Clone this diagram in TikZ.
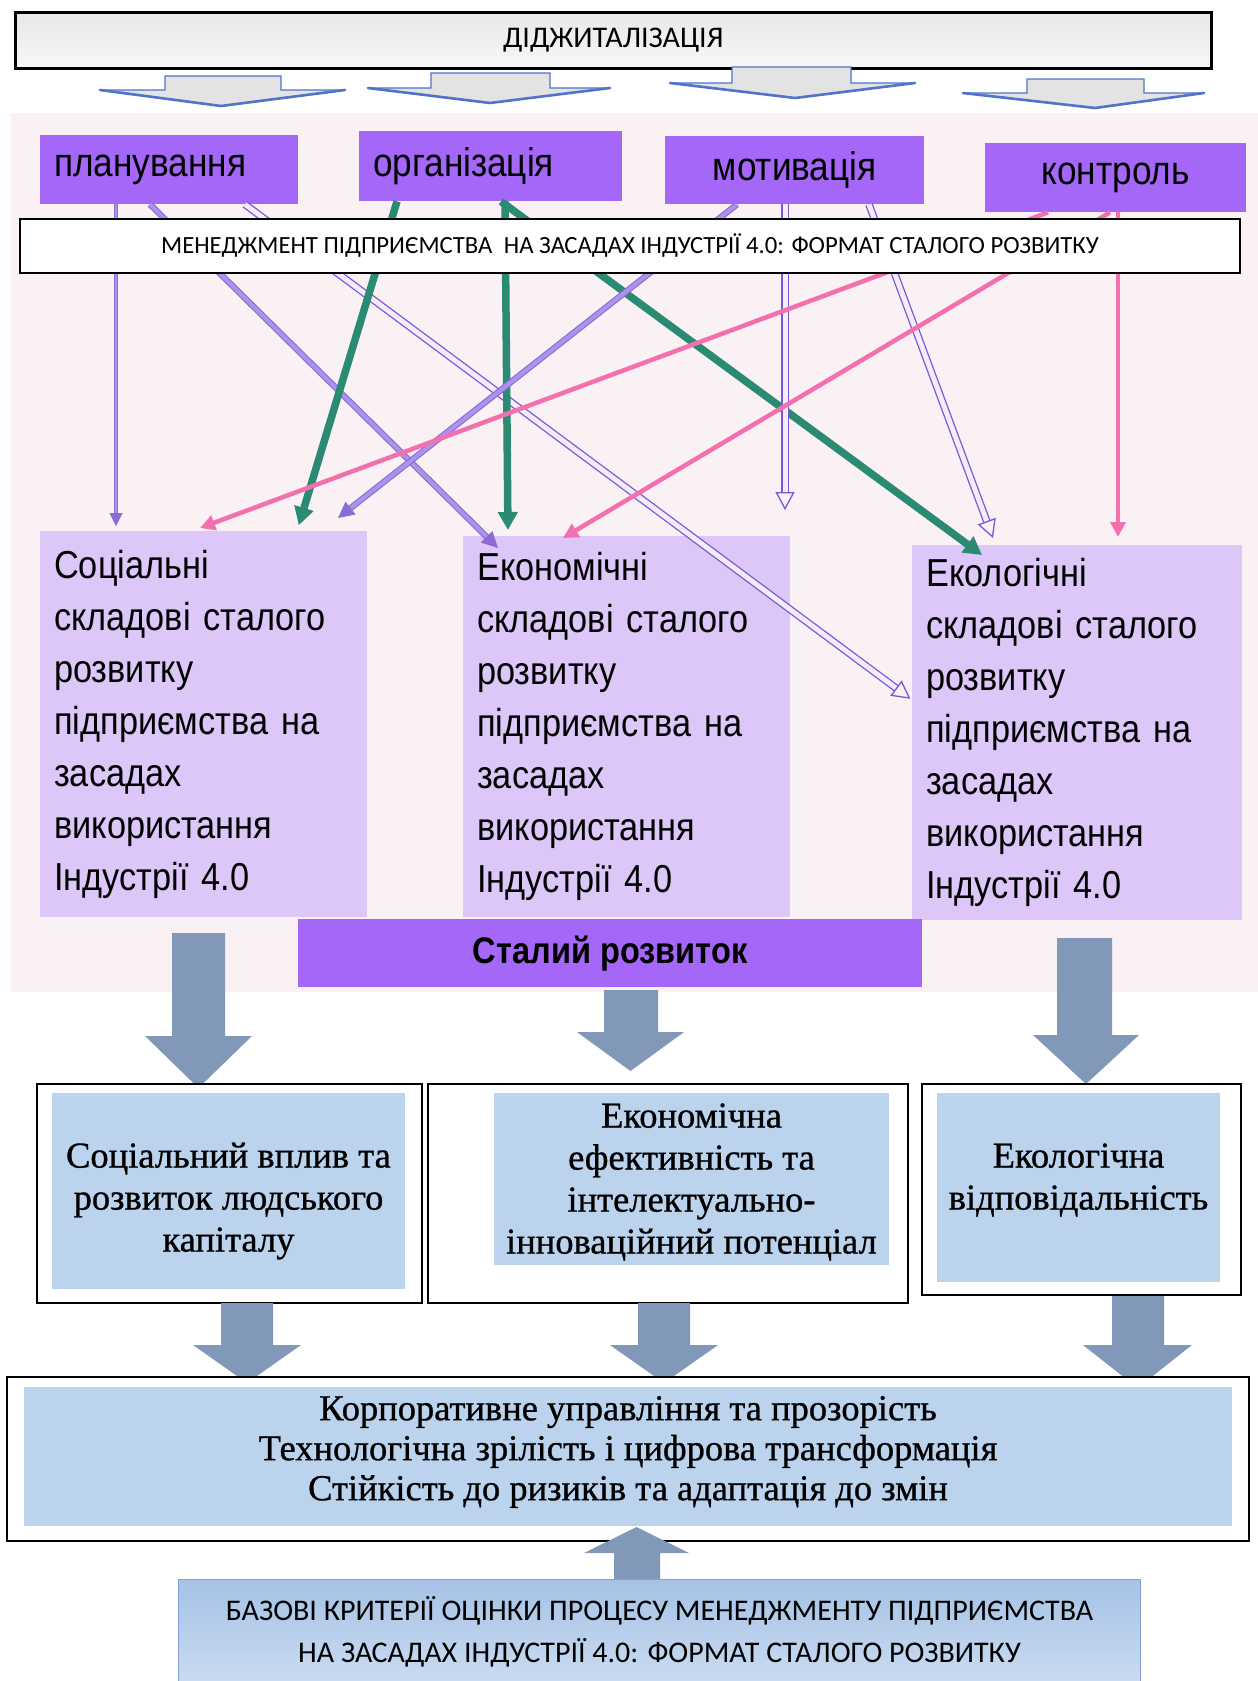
\documentclass[tikz,border=0pt]{standalone}
\usepackage{fontspec}
\setmainfont[FakeBold=0.8]{Liberation Serif}
\newfontfamily\serifheavy[FakeBold=0.8]{Liberation Serif}
\newfontfamily\arialf{Liberation Sans}
\newfontfamily\narrowf[FakeStretch=0.88]{Liberation Sans}
\newfontfamily\calib{Carlito}
\usetikzlibrary{arrows.meta,shapes.geometric}
\definecolor{vio}{HTML}{A467F7}
\definecolor{lav}{HTML}{DCC7F8}
\definecolor{lblue}{HTML}{BCD3EE}
\definecolor{grn}{HTML}{2B8A72}
\definecolor{pinkc}{HTML}{F46FAE}
\definecolor{pdark}{HTML}{8C6BD8}
\definecolor{plight}{HTML}{AC92EA}
\definecolor{hdark}{HTML}{7A57D6}
\definecolor{hlight}{HTML}{F3ECFC}
\definecolor{barrowc}{HTML}{8298B8}
\definecolor{bgpink}{HTML}{FAF1F5}
\definecolor{harrowblue}{HTML}{4F74C8}
\definecolor{bbluetop}{HTML}{A6C2E6}
\definecolor{bbluebot}{HTML}{CADCF1}
\newcommand{\bdown}[7]{\fill[barrowc] (#1,#3) -- (#2,#3) -- (#2,#6) -- (#5,#6) -- ({(#4+#5)/2},#7) -- (#4,#6) -- (#1,#6) -- cycle;}
\newcommand{\hdown}[8]{%
  \filldraw[fill=gray!22, draw=harrowblue, line width=1.2pt] (#1,#3) -- (#2,#3) -- (#2,#6) -- (#5,#6) -- (#7,#8) -- (#4,#6) -- (#1,#6) -- cycle;
  \draw[harrowblue, line width=2.6pt, line cap=round] (#4,#6) -- (#7,#8) -- (#5,#6);}
\begin{document}
\begin{tikzpicture}[x=1pt,y=-1pt,
  pbox/.style={fill=vio, font=\narrowf\fontsize{40}{44}\selectfont, inner ysep=0pt, anchor=north west},
  lbox/.style={fill=lav, font=\narrowf\fontsize{39}{52}\selectfont, align=left, inner xsep=14pt, inner ysep=0pt, anchor=north west},
  bfill/.style={fill=lblue},
  btext/.style={font=\serifheavy\fontsize{36.5}{42}\selectfont, align=center, inner sep=0pt},
  wbox/.style={draw=black, line width=2pt, fill=white, inner sep=0pt, anchor=north west},
  purp/.style={draw=pdark, double=plight, double distance=4pt, line width=1.1pt, -{Triangle[length=16pt,width=16pt]}},
  purpthin/.style={draw=pdark, double=plight, double distance=2pt, line width=1pt, -{Triangle[length=13pt,width=13pt]}},
  holl/.style={draw=hdark, double=hlight, double distance=5pt, line width=1.3pt, -{Triangle[open,length=18pt,width=19pt]}},
  grline/.style={draw=grn, line width=7.5pt, -{Triangle[length=18pt,width=19pt]}},
  pkline/.style={draw=pinkc, line width=4.5pt, -{Triangle[length=15pt,width=15pt]}}
]
\useasboundingbox (0,0) rectangle (1258,1681);
\fill[white] (0,0) rectangle (1258,1681);
% background band
\fill[bgpink] (11,113) rectangle (1258,992);
% top box
\node[draw=black, line width=2.5pt, top color=gray!18, bottom color=gray!6, minimum width=1196pt, minimum height=56pt, inner sep=0pt, anchor=north west, font=\calib\fontsize{30}{34}\selectfont] (dig) at (14,11) {ДІДЖИТАЛІЗАЦІЯ};
% hollow arrows
\hdown{165}{281}{76}{100}{345}{90}{221}{106}
\hdown{431}{550}{73}{368}{610}{88}{490}{103}
\hdown{732}{851}{67}{670}{915}{83}{795}{98}
\hdown{1027}{1144}{79}{963}{1204}{93}{1095}{108}
% function boxes
\node[pbox, align=left, inner xsep=14pt, text width=230pt, minimum height=69pt] (plan) at (40,135) {планування};
\node[pbox, align=left, inner xsep=14pt, text width=235pt, minimum height=70pt] (org) at (359,131) {організація};
\node[pbox, inner xsep=0pt, minimum width=259pt, minimum height=68pt] (motiv) at (665,136) {мотивація};
\node[pbox, inner xsep=0pt, minimum width=261pt, minimum height=69pt] (kontr) at (985,143) {контроль};
% components
\node[lbox, text width=299pt, minimum height=386pt] (soc) at (40,531) {Соціальні\\складові сталого\\розвитку\\підприємства на\\засадах\\використання\\Індустрії 4.0};
\node[lbox, text width=299pt, minimum height=381pt] (eco) at (463,536) {Економічні\\складові сталого\\розвитку\\підприємства на\\засадах\\використання\\Індустрії 4.0};
\node[lbox, text width=302pt, minimum height=375pt] (ekol) at (912,545) {Екологічні\\складові сталого\\розвитку\\підприємства на\\засадах\\використання\\Індустрії 4.0};
\node[fill=vio, minimum width=624pt, minimum height=68pt, inner sep=0pt, anchor=north west, font=\narrowf\bfseries\fontsize{37}{40}\selectfont] (stal) at (298,919) {Сталий розвиток};
% connectors
\draw[purpthin, shorten >=5pt] ([xshift=76pt]plan.south west) -- ([xshift=76pt]soc.north west);
\draw[purp] ([xshift=110pt]plan.south west) -- ([xshift=35pt,yshift=-12pt]eco.north west);
\draw[holl, shorten >=2pt] ([xshift=205pt]plan.south west) -- ([yshift=-155pt]ekol.north west);
\draw[grline, shorten >=6pt] ([xshift=38pt]org.south west) -- ([xshift=257pt]soc.north west);
\draw[grline, shorten >=6pt] ([xshift=146pt]org.south west) -- ([xshift=45pt]eco.north west);
\draw[grline] ([xshift=142pt]org.south west) -- ([xshift=70pt,yshift=-10pt]ekol.north west);
\draw[purp] ([xshift=72pt]motiv.south west) -- ([xshift=298pt,yshift=13pt]soc.north west);
\draw[holl] ([xshift=120pt]motiv.south west) -- ([xshift=322pt,yshift=26pt]eco.north west);
\draw[holl] ([xshift=204pt]motiv.south west) -- ([xshift=81pt,yshift=7pt]ekol.north west);
\draw[pkline] ([xshift=63pt]kontr.south west) -- ([xshift=160pt,yshift=3pt]soc.north west);
\draw[pkline] ([xshift=125pt]kontr.south west) -- ([xshift=100pt,yshift=-2pt]eco.north west);
\draw[pkline] ([xshift=133pt]kontr.south west) -- ([xshift=206pt,yshift=8pt]ekol.north west);
% management bar
\node[draw=black, line width=2pt, fill=white, minimum width=1220pt, minimum height=54pt, inner sep=0pt, anchor=north west, font=\calib\fontsize{24.7}{28}\selectfont] (bar) at (19,218) {МЕНЕДЖМЕНТ ПІДПРИЄМСТВА\hspace{6pt} НА ЗАСАДАХ ІНДУСТРІЇ 4.0: ФОРМАТ СТАЛОГО РОЗВИТКУ};
% block arrows, first row
\bdown{172}{225}{933}{145}{252}{1036}{1088}
\bdown{604}{658}{990}{577}{684}{1032}{1071}
\bdown{1057}{1112}{938}{1033}{1139}{1035}{1084}
% result boxes
\node[wbox, minimum width=385pt, minimum height=219pt] (w1) at (36,1083) {};
\node[wbox, minimum width=480pt, minimum height=219pt] (w2) at (427,1083) {};
\node[wbox, minimum width=319pt, minimum height=211pt] (w3) at (921,1083) {};
\fill[bfill] (52,1093) rectangle (405,1289);
\fill[bfill] (494,1093) rectangle (889,1265);
\fill[bfill] (937,1093) rectangle (1220,1282);
\node[btext] (r1) at (228.5,1201) {Соціальний вплив та\\розвиток людського\\капіталу};
\node[btext] (r2) at (691.5,1182) {Економічна\\ефективність та\\інтелектуально-\\інноваційний потенціал};
\node[btext] (r3) at (1078.5,1180) {Екологічна\\відповідальність};
% second row arrows
\bdown{221}{273}{1303}{193}{301}{1345}{1383}
\bdown{638}{690}{1303}{610}{718}{1345}{1383}
\bdown{1112}{1164}{1296}{1083}{1192}{1345}{1388}
% criteria box
\node[wbox, minimum width=1242pt, minimum height=164pt] (w4) at (6,1376) {};
\fill[bfill] (24,1387) rectangle (1232,1526);
\node[btext, font=\serifheavy\fontsize{36.5}{40}\selectfont] (crit) at (628,1452) {Корпоративне управління та прозорість\\Технологічна зрілість і цифрова трансформація\\Стійкість до ризиків та адаптація до змін};
% up arrow
\bdown{614}{660}{1579}{584}{689}{1553}{1527}
% base box
\node[draw=harrowblue!70, line width=1pt, top color=bbluetop, bottom color=bbluebot, minimum width=962pt, minimum height=105pt, inner sep=0pt, anchor=north west, align=center, font=\calib\fontsize{30}{42}\selectfont] (base) at (178,1579) {БАЗОВІ КРИТЕРІЇ ОЦІНКИ ПРОЦЕСУ МЕНЕДЖМЕНТУ ПІДПРИЄМСТВА\\НА ЗАСАДАХ ІНДУСТРІЇ 4.0: ФОРМАТ СТАЛОГО РОЗВИТКУ};
\end{tikzpicture}
\end{document}
